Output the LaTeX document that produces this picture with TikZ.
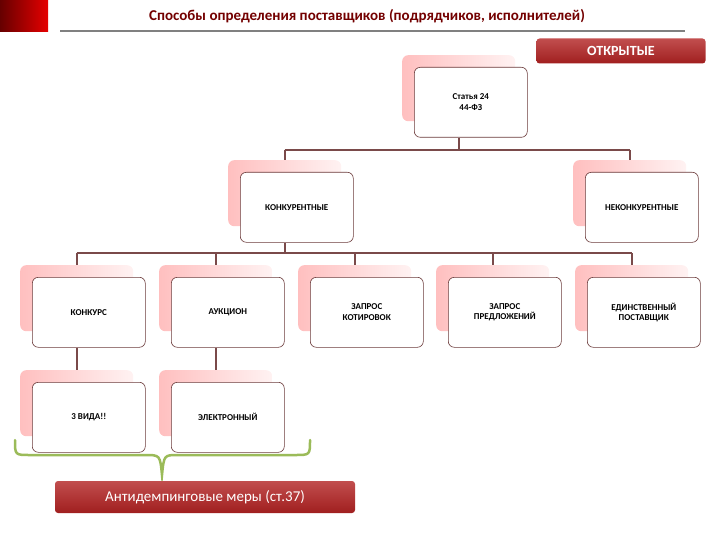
\documentclass[tikz,border=0pt]{standalone}
\usepackage{fontspec}
\setmainfont{Carlito}
\usetikzlibrary{backgrounds}
\definecolor{dred}{HTML}{B22222}
\definecolor{brd}{HTML}{6B3A3A}
\definecolor{lnk}{HTML}{7A4A4A}
\definecolor{grn}{HTML}{9BBB59}
\tikzset{
 shadowbox/.style={rounded corners=6pt,left color=red!25,right color=red!5,draw=none,minimum width=113pt,minimum height=66pt,anchor=north west,inner sep=0},
 mainbox/.style={rounded corners=6pt,fill=white,draw=brd,line width=0.6pt,minimum width=113pt,minimum height=70pt,anchor=north west,align=center,font=\bfseries\fontsize{9}{10.5}\selectfont,inner sep=2pt},
 link/.style={draw=lnk,line width=1.6pt},
 redbtn/.style={rounded corners=3pt,top color=dred!80,bottom color=dred!90!black,text=white,draw=none}
}
\newcommand{\pbox}[4]{% name, x, y (main top-left), text
 \node[shadowbox] (#1s) at (#2-12,#3-12) {};
 \node[mainbox] (#1) at (#2,#3) {#4};
}
\begin{document}
\begin{tikzpicture}[x=1pt,y=-1pt]
\useasboundingbox (0,0) rectangle (720,540);
\fill[left color=red!40!black,right color=red!90!black] (0,0) rectangle (48,32);
\node[text=red!45!black,font=\bfseries\fontsize{15}{17}\selectfont] (title) at (367,16) {Способы определения поставщиков (подрядчиков, исполнителей)};
\draw[gray,line width=2.2pt] (60,31) -- (685,31);
\node[redbtn,minimum width=169pt,minimum height=25pt,font=\bfseries\fontsize{14}{16}\selectfont] (open) at (621,51) {ОТКРЫТЫЕ};
\coordinate (h1) at (459,150);
\coordinate (h2) at (77,253);
\pbox{st}{414}{67}{Статья 24\\44-ФЗ}
\pbox{kon}{240}{172}{КОНКУРЕНТНЫЕ}
\pbox{nekon}{585}{172}{НЕКОНКУРЕНТНЫЕ}
\pbox{k}{32}{277}{КОНКУРС}
\pbox{a}{171}{277}{АУКЦИОН}
\pbox{zk}{310}{277}{ЗАПРОС\\КОТИРОВОК}
\pbox{zp}{448}{277}{ЗАПРОС\\ПРЕДЛОЖЕНИЙ}
\pbox{ed}{587}{277}{ЕДИНСТВЕННЫЙ\\ПОСТАВЩИК}
\pbox{v}{32}{382}{3 ВИДА!!}
\pbox{el}{171}{382}{ЭЛЕКТРОННЫЙ}
\begin{scope}[on background layer]
\draw[link] (st.south -| sts.south) -- (sts.south |- h1);
\draw[link] (kons.north |- h1) -- (nekons.north |- h1);
\draw[link] (kons.north |- h1) -- (kons.north);
\draw[link] (nekons.north |- h1) -- (nekons.north);
\draw[link] (kon.south -| kons.south) -- (kons.south |- h2);
\draw[link] (ks.north |- h2) -- (eds.north |- h2);
\foreach \n in {k,a,zk,zp,ed} \draw[link] (\n s.north |- h2) -- (\n s.north);
\draw[link] (k.south -| ks.south) -- (vs.north);
\draw[link] (a.south -| as.south) -- (els.north);
\end{scope}
\draw[grn,line width=2.5pt,line cap=round] (15,440) .. controls (15,455) .. (30,455) -- (145,455) .. controls (160,455) .. (162,475) .. controls (164,455) .. (178,455) -- (295,455) .. controls (310,455) .. (310,440);
\node[redbtn,minimum width=300pt,minimum height=32pt,font=\fontsize{15}{17}\selectfont] (anti) at (205,497) {Антидемпинговые меры (ст.37)};
\end{tikzpicture}
\end{document}
